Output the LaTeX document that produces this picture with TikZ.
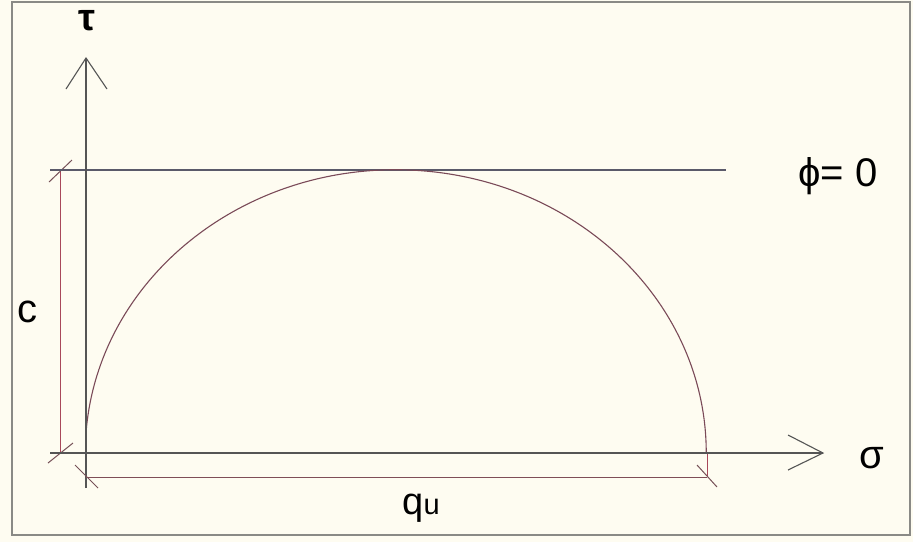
\documentclass[tikz,border=0pt]{standalone}
\usepackage{fontspec}
\setmainfont{Liberation Sans}
\definecolor{bgc}{HTML}{FEFCF1}
\definecolor{framec}{HTML}{8A8A86}
\definecolor{axisc}{HTML}{555555}
\definecolor{curvec}{HTML}{7A4A58}
\definecolor{dimc}{HTML}{A8485A}
\definecolor{linec}{HTML}{5A5A6A}
\begin{document}
\begin{tikzpicture}[x=1pt,y=-1pt,
  axis/.style={draw=axisc,line width=1.1pt},
  dimline/.style={draw=dimc,line width=0.9pt},
  tickmark/.style={draw=axisc!60!dimc,line width=1pt},
  lbl/.style={inner sep=0pt,text=black}]
\useasboundingbox (0,0) rectangle (913,542);
\fill[bgc] (0,0) rectangle (913,542);
\draw[framec,line width=1.5pt] (12,2) rectangle (910,535);
% coordinates
\coordinate (O) at (86,453);
\coordinate (ttip) at (86,58);
\coordinate (stip) at (823,453);
% dimension c
\coordinate (c1) at (60,170);
\coordinate (c2) at (60,453);
\draw[dimline] (c1) -- (c2);
\draw[tickmark] (49,182) -- (72,160);
\draw[tickmark] (48,463) -- (73,443);
% phi=0 line
\coordinate (pl) at (50,170);
\coordinate (pr) at (726,170);
\draw[linec,line width=1.1pt] (pl) -- (pr);
% semicircle (ellipse arc)
\draw[curvec,line width=1.1pt] (86,433) arc[start angle=184,end angle=360,x radius=310.5,y radius=283] coordinate (arcend);
\draw[dimc,line width=1pt] (707,453) -- (707,477);
% axes
\draw[axis] (50,453) -- (stip);
\draw[axis] (788,435) -- (stip) -- (788,470);
\draw[axis] (86,488) -- (ttip);
\draw[axis] (66,89) -- (ttip) -- (107,89);
% dimension qu
\coordinate (q1) at (86,477);
\coordinate (q2) at (707,477);
\draw[dimline,draw=axisc!50!dimc] (q1) -- (q2);
\draw[tickmark] (75,465) -- (98,488);
\draw[tickmark] (697,465) -- (717,487);
% labels
\node[lbl,font=\fontsize{38}{42}\selectfont\bfseries] (tau) at (87,21) {τ};
\node[lbl,font=\fontsize{40}{44}\selectfont] (sig) at (872,458) {σ};
\node[lbl,font=\fontsize{40}{46}\selectfont] (c) at (27,312) {c};
\node[lbl,anchor=base,font=\fontsize{40}{46}\selectfont] (phi) at (838,186) {ϕ= 0};
\node[lbl,anchor=base,font=\fontsize{38}{40}\selectfont] (qu) at (421,514) {q{\fontsize{29}{32}\selectfont u}};
\end{tikzpicture}
\end{document}
